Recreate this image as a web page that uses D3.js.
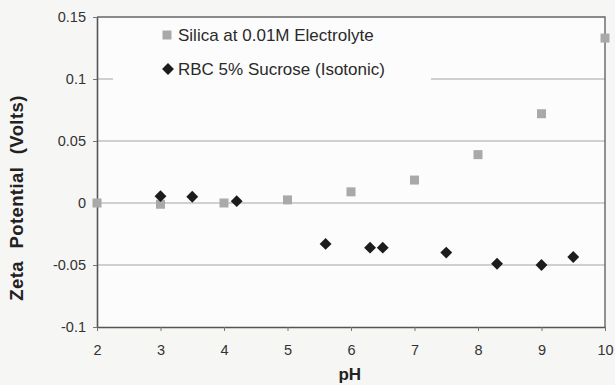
<!DOCTYPE html>
<html>
<head>
<meta charset="utf-8">
<script src="https://cdn.jsdelivr.net/npm/d3@7/dist/d3.min.js"></script>
<style>
  body { margin: 0; background: #f6f6f5; }
  svg { display: block; font-family: "Liberation Sans", Arial, sans-serif; }
  .tick text { fill: #333; font-size: 14.5px; }
</style>
</head>
<body>
<div id="chart"></div>
<script>
// silica particles in 0.01M electrolyte
const silicaPH = [2, 3, 4, 5, 6, 7, 8, 9, 10];
const silicaZeta = [0, -0.001, 0, 0.0025, 0.009, 0.0185, 0.039, 0.072, 0.133];

// red blood cells in 5% sucrose
const rbcPH = [3, 3.5, 4.2, 5.6, 6.3, 6.5, 7.5, 8.3, 9, 9.5];
const rbcZeta = [0.0055, 0.005, 0.0015, -0.033, -0.036, -0.036, -0.040, -0.049, -0.050, -0.0435];

const xTicks = [2, 3, 4, 5, 6, 7, 8, 9, 10];
const yTicks = [-0.1, -0.05, 0, 0.05, 0.1, 0.15];
const yTickLabels = ["-0.1", "-0.05", "0", "0.05", "0.1", "0.15"];

const seriesNames = ["Silica at 0.01M Electrolyte", "RBC 5% Sucrose (Isotonic)"];

const W = 615, H = 385;
const margin = {top: 17, right: 10, bottom: 58, left: 97};
const width = W - margin.left - margin.right;
const height = H - margin.top - margin.bottom;

const svg = d3.select("#chart").append("svg")
    .attr("width", W)
    .attr("height", H);

const g = svg.append("g")
    .attr("transform", `translate(${margin.left},${margin.top})`);

const x = d3.scaleLinear().domain([2, 10]).range([0, width]);
const y = d3.scaleLinear().domain([-0.1, 0.15]).range([height, 0]);

const plotFill = "#fcfcfc";

// plot background
g.append("rect")
    .attr("width", width)
    .attr("height", height)
    .attr("fill", plotFill);

// horizontal gridlines
g.selectAll(".grid")
    .data(yTicks.filter(d => d > -0.1 && d < 0.15))
    .enter().append("line")
    .attr("class", "grid")
    .attr("x1", 0)
    .attr("x2", width)
    .attr("y1", d => y(d))
    .attr("y2", d => y(d))
    .attr("stroke", "#a4a4a4")
    .attr("stroke-width", 1.2);

// top and right border
g.append("path")
    .attr("d", `M0,0H${width}V${height}`)
    .attr("fill", "none")
    .attr("stroke", "#666")
    .attr("stroke-width", 1.4);

// axes
const xAxis = d3.axisBottom(x).tickValues(xTicks).tickSize(4).tickPadding(14).tickSizeOuter(0);
const yAxis = d3.axisLeft(y).tickValues(yTicks).tickSize(4).tickPadding(7).tickSizeOuter(0)
    .tickFormat((d, i) => yTickLabels[i]);

g.append("g")
    .attr("transform", `translate(0,${height})`)
    .call(xAxis)
    .call(a => a.select(".domain").attr("stroke", "#555").attr("stroke-width", 1.6))
    .call(a => a.selectAll(".tick line").attr("stroke", "#777"));

g.append("g")
    .call(yAxis)
    .call(a => a.select(".domain").attr("stroke", "#555").attr("stroke-width", 1.6))
    .call(a => a.selectAll(".tick line").attr("stroke", "#777"));

// legend box sits over the gridlines
const legend = g.append("g").attr("transform", "translate(16,3)");
legend.append("rect")
    .attr("width", 318)
    .attr("height", 68)
    .attr("fill", plotFill);

const squareSize = 9;
const diamond = d3.symbol().type(d3.symbolDiamond2).size(90);

legend.append("rect")
    .attr("x", 54 - squareSize / 2)
    .attr("y", 15 - squareSize / 2)
    .attr("width", squareSize)
    .attr("height", squareSize)
    .attr("fill", "#a9a9a9");
legend.append("path")
    .attr("d", diamond)
    .attr("transform", "translate(55,49)")
    .attr("fill", "#1c1c1c");

legend.selectAll(".legend-text")
    .data(seriesNames)
    .enter().append("text")
    .attr("x", 65)
    .attr("y", (d, i) => 15 + i * 34)
    .attr("dy", "0.36em")
    .attr("font-size", 17)
    .attr("fill", "#2a2a2a")
    .text(d => d);

// silica squares
const silica = silicaPH.map((p, i) => ({ph: p, z: silicaZeta[i]}));
g.selectAll(".silica")
    .data(silica)
    .enter().append("rect")
    .attr("class", "silica")
    .attr("x", d => x(d.ph) - squareSize / 2)
    .attr("y", d => y(d.z) - squareSize / 2)
    .attr("width", squareSize)
    .attr("height", squareSize)
    .attr("fill", "#a9a9a9");

// RBC diamonds
const rbc = rbcPH.map((p, i) => ({ph: p, z: rbcZeta[i]}));
g.selectAll(".rbc")
    .data(rbc)
    .enter().append("path")
    .attr("class", "rbc")
    .attr("d", diamond)
    .attr("transform", d => `translate(${x(d.ph)},${y(d.z)})`)
    .attr("fill", "#1c1c1c");

// axis titles
svg.append("text")
    .attr("x", margin.left + x(5.98))
    .attr("y", 380)
    .attr("text-anchor", "middle")
    .attr("font-size", 17)
    .attr("font-weight", "bold")
    .attr("fill", "#222")
    .text("pH");

svg.append("text")
    .attr("transform", "translate(23,198) rotate(-90)")
    .attr("text-anchor", "middle")
    .attr("font-size", 18.5)
    .attr("font-weight", "bold")
    .attr("fill", "#222")
    .attr("letter-spacing", 0.4)
    .attr("word-spacing", 7)
    .text("Zeta Potential (Volts)");
</script>
</body>
</html>
